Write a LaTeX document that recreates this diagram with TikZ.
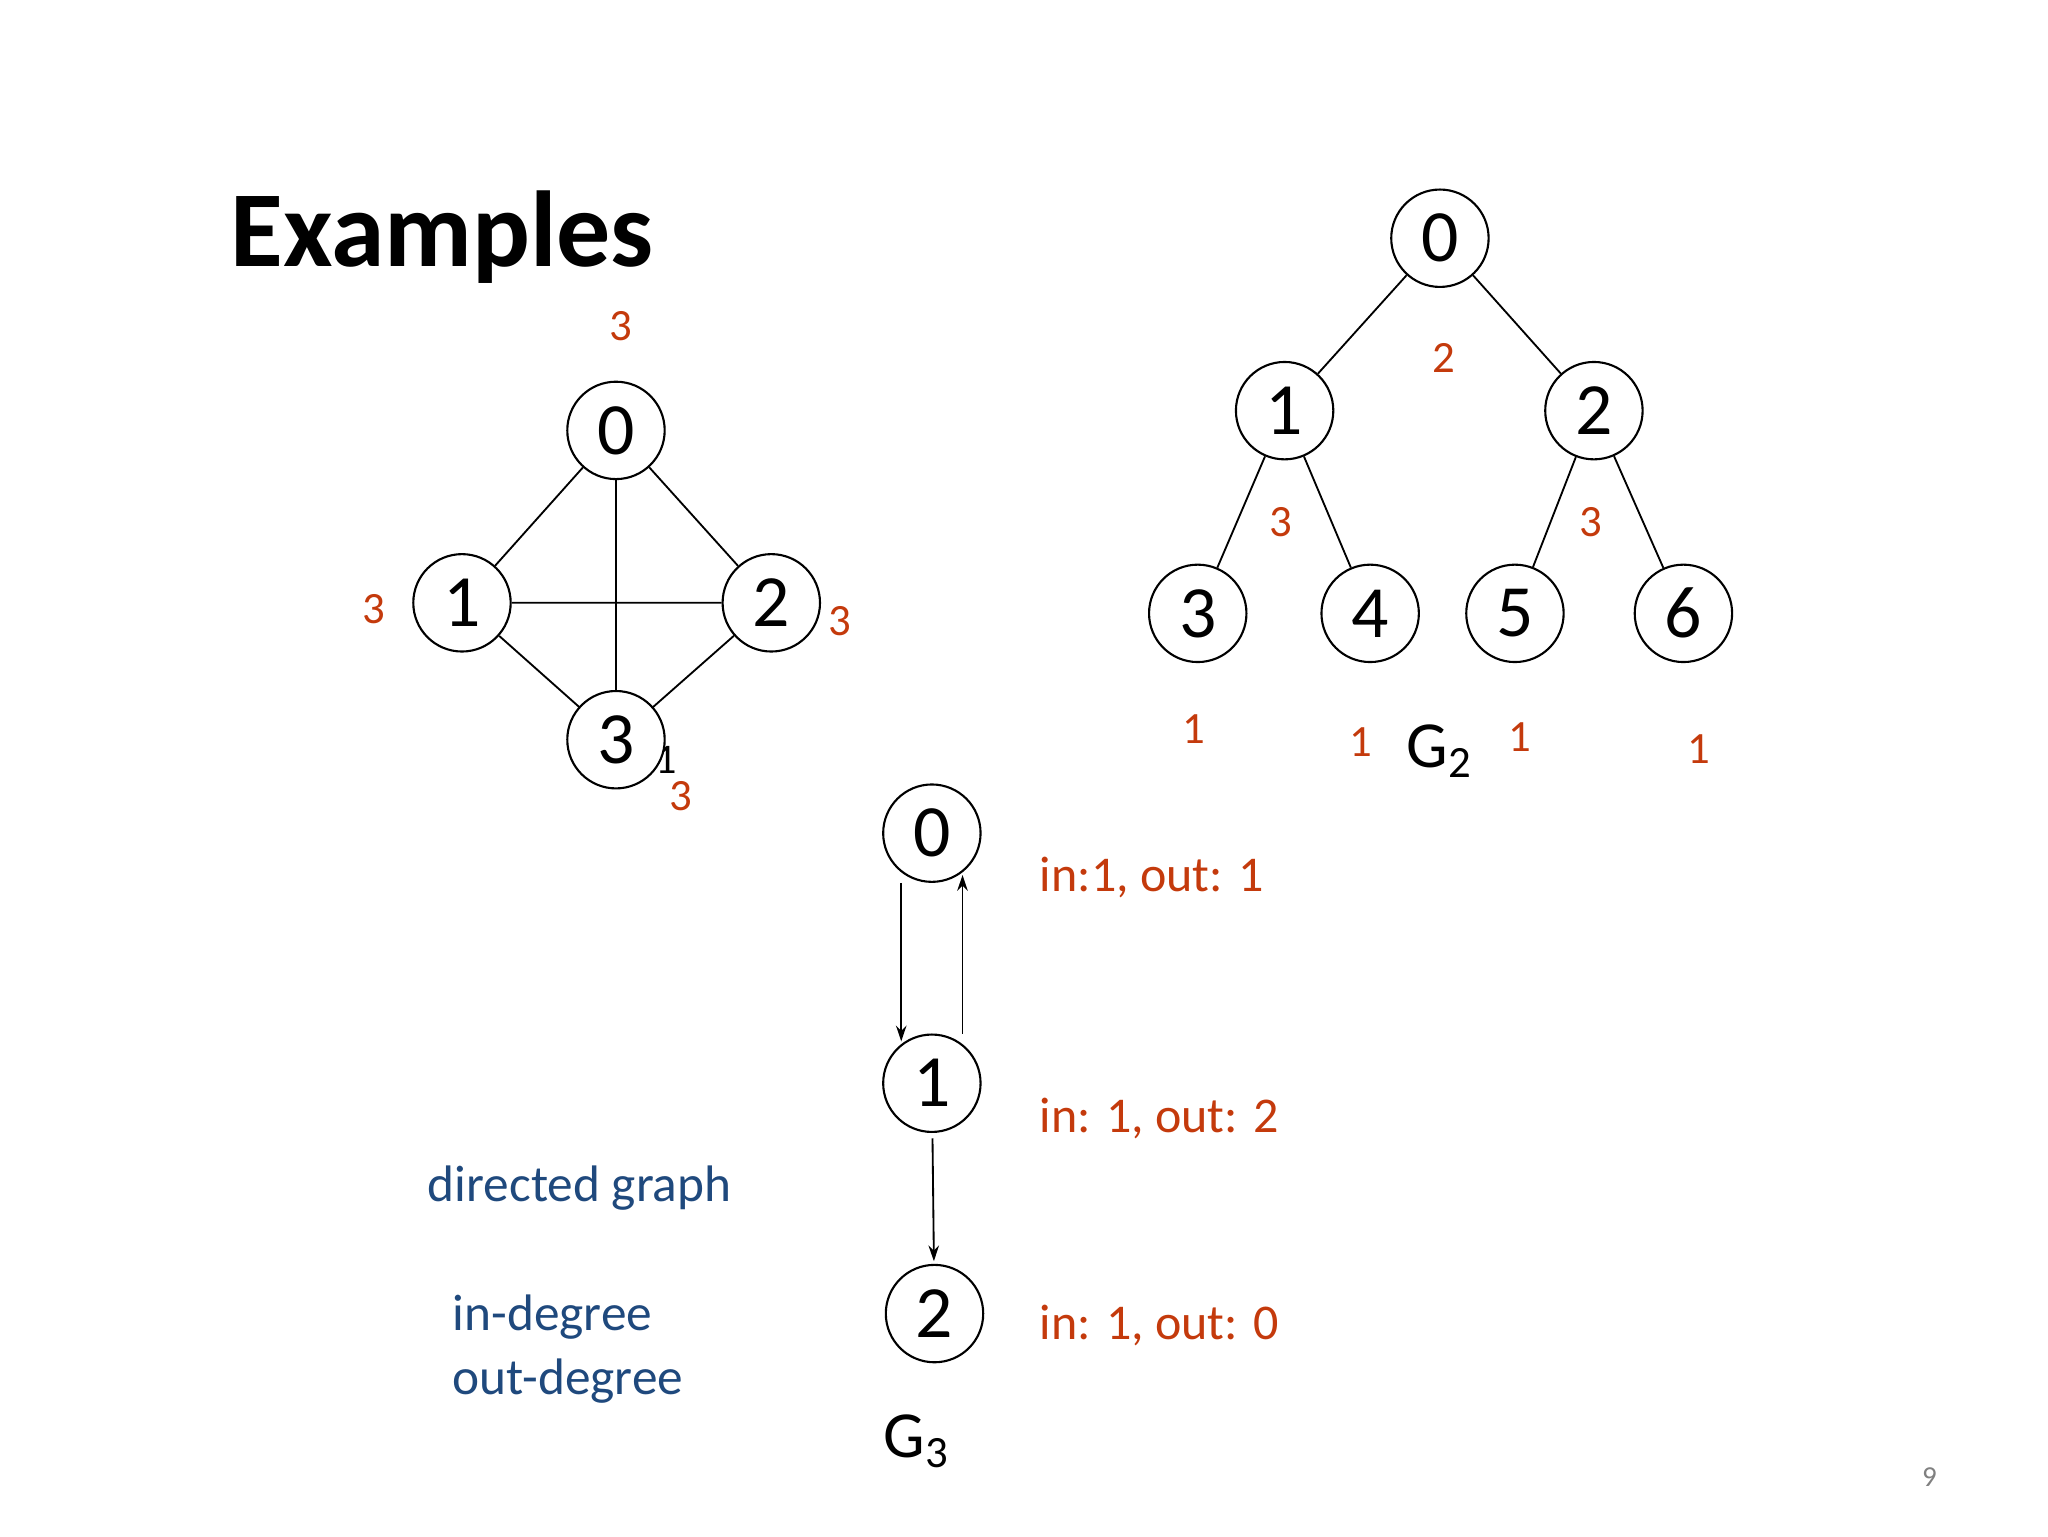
\documentclass[tikz,border=0pt]{standalone}
\usepackage{fontspec}
\setmainfont{Carlito}
\usetikzlibrary{arrows.meta}
\definecolor{rd}{RGB}{196,58,12}
\definecolor{bl}{RGB}{31,73,125}
\begin{document}
\begin{tikzpicture}[x=0.5pt,y=-0.5pt,
  vtx/.style={circle,draw,line width=0.8pt,fill=white,minimum size=37pt,inner sep=0pt,font=\fontsize{28}{30}\selectfont},
  rl/.style={text=rd,font=\fontsize{17}{19}\selectfont},
  rt/.style={text=rd,anchor=west,font=\fontsize{19}{22}\selectfont},
  bt/.style={text=bl,font=\fontsize{19.5}{22}\selectfont,anchor=west},
  gl/.style={font=\fontsize{25}{28}\selectfont},
  ed/.style={line width=0.7pt},
  ar/.style={ed,-{Stealth[length=6pt,width=4pt]}}]
\useasboundingbox (0,0) rectangle (1556,1167);
\node[font=\bfseries\fontsize{41}{44}\selectfont,anchor=west] (title) at (168,180) {Examples};
% G1
\node[gl] (g1) at (490,568) {G\raisebox{-0.15em}{\fontsize{16}{18}\selectfont 1}};
\node[vtx] (a0) at (468,327) {0};
\node[vtx] (a1) at (351,458) {1};
\node[vtx] (a2) at (586,458) {2};
\draw[ed] (a0)--(a1) (a0)--(a2) (a1)--(a2) (a1)--(468,562) (a2)--(468,562) (a0)--(468,562);
\node[vtx] (a3) at (468,562) {3};
\node[rl] (r1) at (472,248) {3};
\node[rl] (r2) at (284,463) {3};
\node[rl] (r3) at (638,472) {3};
\node[rl] (r4) at (517,605) {3};
% G2
\node[vtx] (b0) at (1094,181) {0};
\node[vtx] (b1) at (976,312) {1};
\node[vtx] (b2) at (1211,312) {2};
\node[vtx] (b3) at (910,466) {3};
\node[vtx] (b4) at (1041,466) {4};
\node[vtx] (b5) at (1151,466) {5};
\node[vtx] (b6) at (1279,466) {6};
\draw[ed] (b0)--(b1) (b0)--(b2) (b1)--(b3) (b1)--(b4) (b2)--(b5) (b2)--(b6);
\node[rl] (s1) at (1097,272) {2};
\node[rl] (s2) at (973,397) {3};
\node[rl] (s3) at (1209,397) {3};
\node[rl] (s4) at (907,554) {1};
\node[rl] (s5) at (1034,564) {1};
\node[rl] (s6) at (1155,560) {1};
\node[rl] (s7) at (1291,569) {1};
\node[gl] (g2) at (1093,571) {G\raisebox{-0.15em}{\fontsize{17}{18}\selectfont 2}};
% G3
\node[vtx] (c0) at (708,633) {0};
\node[vtx] (c1) at (708,823) {1};
\node[vtx] (c2) at (710,998) {2};
\draw[ar,shorten <=4pt,shorten >=1pt] (c0.232) -- (c1.128);
\draw[ar,shorten <=4pt,shorten >=1pt] (c1.52) -- (c0.308);
\draw[ar,shorten <=2pt,shorten >=1pt] (c1) -- (c2);
\node[rt] (t0) at (783,667) {in:1, out: 1};
\node[rt] (t1) at (783,850) {in: 1, out: 2};
\node[rt] (t2) at (783,1007) {in: 1, out: 0};
\node[gl] (g3) at (696,1095) {G\raisebox{-0.15em}{\fontsize{17}{18}\selectfont 3}};
\node[bt] (d1) at (318,903) {directed graph};
\node[bt] (d2) at (337,1001) {in-degree};
\node[bt] (d3) at (337,1049) {out-degree};
\node[text=gray,font=\fontsize{11}{13}\selectfont] (pg) at (1466,1122) {9};
\end{tikzpicture}
\end{document}
